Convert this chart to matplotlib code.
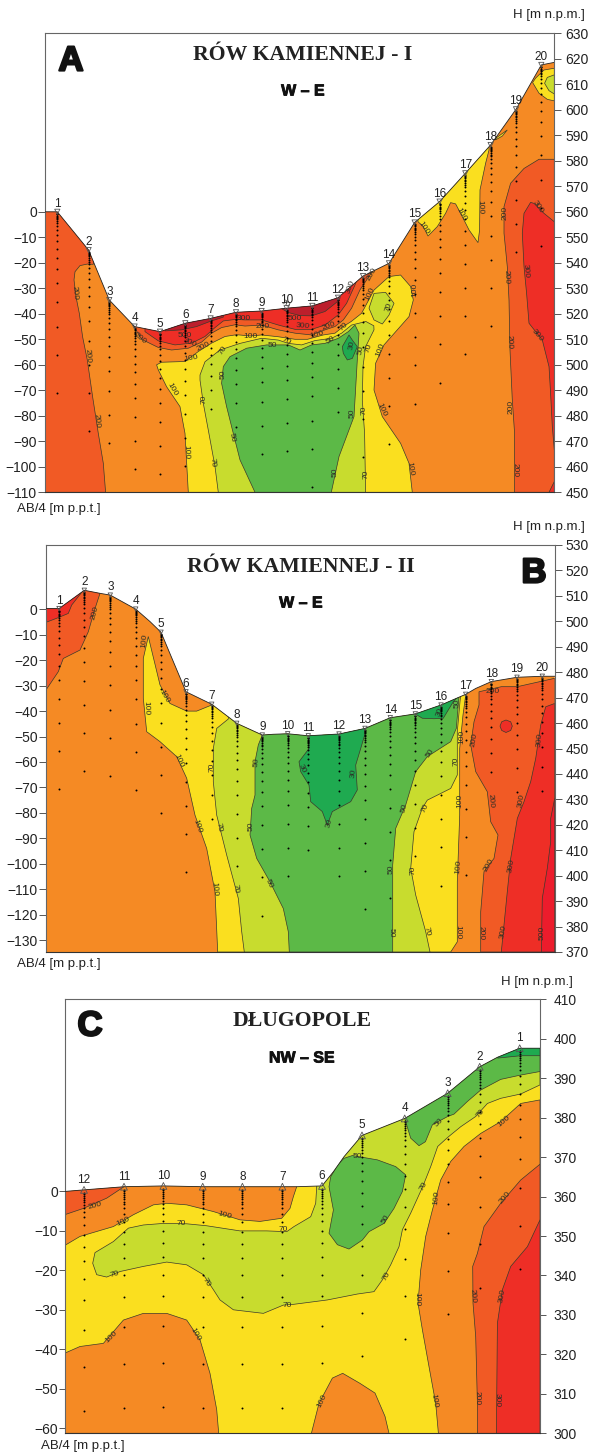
import matplotlib
matplotlib.use('Agg')
import matplotlib.pyplot as plt
from matplotlib.patches import Polygon
import matplotlib.patheffects as pe

W, H = 594, 1454
SANS = ['Liberation Sans', 'DejaVu Sans']

ORANGE = '#F58A24'
REDOR = '#F15A25'
RED = '#EE2E26'
RED2 = '#EC1C2C'
DARKRED = '#BC1F2C'
YELLOW = '#FADF1F'
YGREEN = '#C8DC2E'
GREEN = '#5CB947'
DGREEN = '#1FAA50'

# AB/4 depth of the sounding points below each station [m]
ab4_depths = [0.75, 1, 1.5, 2, 2.5, 3, 3.75, 4.5, 5.5, 7, 9, 11.5, 14.5, 18, 22.5, 28, 35.5, 45, 56, 71]

# ---------- profile A ----------
a_station_x = [12, 43.3, 64, 89.3, 114.7, 140, 165.3, 190.7, 216.3, 241.3, 267, 292.7, 317.7, 343.7, 369.3, 394.3, 420, 445.3, 470.7, 496]
a_station_h = [560, 545, 525.4, 515, 513, 516.3, 518.2, 520.6, 521.1, 522.2, 523.1, 526.3, 534.8, 539.8, 555.8, 564, 575.1, 586.2, 600.2, 617.6]
a_counts = [20, 20, 19, 19, 19, 19, 17, 18, 19, 19, 20, 18, 20, 20, 20, 20, 20, 20, 19, 20]
a_surface = [(0, 560), (12, 560), (43.3, 545), (64, 525.4), (89.3, 515), (114.7, 513), (140, 516.3), (165.3, 518.2), (190.7, 520.6), (216.3, 521.1), (241.3, 522.2), (267, 523.1), (292.7, 526.3), (317.7, 534.8), (343.7, 539.8), (369.3, 555.8), (394.3, 564), (420, 575.1), (445.3, 586.2), (470.7, 600.2), (496, 617.6), (509, 618.6)]

a_left200 = [(0, 450), (0, 565), (50, 565), (48, 539.4), (42, 539.5), (34.7, 538.9), (29.7, 536.5), (28.7, 533.3), (30.7, 526.7), (34, 520.2), (37.3, 511), (42, 501.9), (47.3, 487.5), (53, 473.1), (58, 461.4), (60.3, 450)]
a_top200 = [(84.7, 517.9), (89.7, 514.3), (96.3, 510), (113, 506.8), (126.3, 505.8), (143, 506.5), (156.3, 508.9), (166.3, 512.4), (176.3, 514.6), (189.7, 515.7), (199.7, 515.2), (216.3, 515.6), (233, 513.7), (249.7, 512.4), (266.3, 511.7), (279.7, 513.7), (289.7, 515), (298, 517.6), (306.3, 522.2), (314.7, 529.4), (328, 537.2), (345, 541), (345, 548), (84.7, 548)]
a_top300 = [(99.7, 513), (113, 509.4), (129.7, 507.8), (146.3, 508.5), (159.7, 511.1), (169.7, 514.6), (178, 517.2), (190, 517.8), (199.7, 517.6), (216.3, 517.6), (233, 515.6), (249.7, 513.9), (266.3, 513.9), (279.7, 515.6), (293, 519.6), (301.3, 524.1), (309.7, 531.3), (318, 540), (318, 545), (99.7, 545)]
a_top500a = [(119.7, 513.3), (136.3, 513.7), (151.3, 515), (164.7, 517), (178, 518.7), (178, 530), (119.7, 530)]
a_top500b = [(234.7, 522.4), (243, 520.5), (254.7, 519.3), (266.3, 519.2), (279.7, 520.9), (291.3, 524.5), (294.7, 526.1), (295, 535), (235, 535)]
a_yellow = [(111.3, 500), (116.3, 501), (139.7, 501.3), (153, 505.2), (166.3, 508.5), (179.7, 511.1), (191.3, 511.8), (205, 511.3), (216.3, 511.7), (233, 511), (249.7, 510), (262.3, 510), (278, 511.7), (289.7, 512.4), (298, 515), (306, 517), (316.3, 520.2), (328.7, 529.3), (343.7, 534.6), (355.3, 535.2), (365.3, 530.7), (368, 525.4), (363.7, 518.9), (352, 513.7), (338.7, 507.8), (330.3, 500.6), (328.7, 490.1), (337, 479.7), (355.3, 469.2), (363.7, 461.4), (367, 450), (143, 450), (139.7, 473.1), (134.7, 483.6), (121.3, 491.4), (113, 498)]
a_ygreen = [(173, 450), (169.7, 460.1), (163, 474.4), (158, 484.9), (154.7, 494), (154.7, 496), (159.7, 501.2), (174.7, 505.8), (194.7, 508.4), (216.3, 510.4), (233, 509.7), (243, 508.4), (256.3, 507.8), (269.7, 509.5), (286.3, 510.4), (296.3, 512.4), (306.3, 515.6), (314.7, 516.4), (320.5, 517), (328.5, 515.3), (328.7, 513.7), (320.3, 507.1), (317.7, 499.3), (317, 486.2), (319.3, 473.1), (320.3, 450)]
a_green = [(209.7, 450), (194.7, 462.7), (188, 473.1), (181.3, 483.6), (176.3, 492.7), (178, 499.3), (184.7, 503.2), (201.3, 506.5), (221.3, 507.8), (238, 507.8), (243, 507.8), (254.7, 505.8), (266.3, 507.8), (279.7, 508.4), (293, 510.4), (303, 513), (309.7, 515.6), (313.7, 512.4), (312, 501.9), (308.7, 479.7), (293.7, 464), (286, 450)]
a_dgreen = [(297, 507.1), (303.7, 511.7), (307, 509.7), (312, 507.1), (307, 502.5), (302, 501.9), (298, 504.5)]
a_blob70 = [(323.7, 522.2), (328.7, 528), (340.3, 528.4), (348.7, 524.1), (343.7, 519.5), (337, 516), (328.7, 517.6)]
a_wedge = [(372.7, 556.1), (378, 554.2), (382.7, 550.5), (392, 554.2), (400.3, 559.4), (405.3, 563.6), (410.3, 563.1), (415.3, 559.4), (423.7, 552.9), (432.7, 547.9), (434.3, 552.9), (434.7, 568.6), (440.3, 579), (443.7, 584.2), (443.7, 595), (372.7, 570)]
a_sliver = [(450.3, 588.8), (462, 592.1), (457, 589.7), (450.3, 588.2)]
a_right200 = [(509, 580.6), (493.7, 580.6), (478.7, 577), (465.3, 571.2), (458.7, 562), (458.7, 551.6), (462, 538.5), (463.7, 525.4), (464.7, 505.8), (467, 486.2), (469.3, 473.1), (469.3, 450), (509, 450)]
a_right300 = [(509, 556.1), (498.7, 559.4), (488.7, 563.3), (485.3, 563.7), (478.7, 559.4), (477, 551.6), (478.7, 538.5), (481.3, 528), (483.7, 516.3), (497, 509.7), (503.7, 499.3), (505.3, 488.8), (507, 475.8), (509, 466.6)]
a_corner300 = [(503.7, 450), (509, 454.2), (509, 450)]
a_top_yellow = [(509, 616.3), (498.7, 615.6), (490.3, 612.4), (487.3, 610.7), (493.7, 606.5), (502, 604.1), (509, 603.5)]
a_top_ygreen = [(509, 613.7), (502, 612.7), (499.3, 610.4), (503.7, 607.5), (509, 606.2)]

a_regions = [(REDOR, a_left200), (REDOR, a_right200), (RED, a_right300), (RED, a_corner300),
             (REDOR, a_top200), (RED, a_top300), (DARKRED, a_top500a), (DARKRED, a_top500b),
             (YELLOW, a_yellow), (YGREEN, a_ygreen), (GREEN, a_green), (DGREEN, a_dgreen),
             (YGREEN, a_blob70), (YELLOW, a_wedge), (YELLOW, a_sliver),
             (YELLOW, a_top_yellow), (YGREEN, a_top_ygreen)]

a_labels = [(29.7, 528, '200', -85), (42.3, 503.5, '200', -85), (51.3, 478, '200', -85), (94.7, 510.4, '200', -40),
            (139, 511.3, '500', 0), (144.7, 508.7, '300', -25), (158, 507.1, '200', 25), (146.3, 502.5, '100', 10),
            (127.3, 490.5, '100', -60), (140.7, 465.7, '100', -88), (159, 486.6, '70', 90), (167.3, 461.6, '70', -85),
            (178, 505.8, '70', 55), (178, 496.4, '50', 90), (186.3, 471.6, '50', -80), (198.7, 518, '300', 0),
            (217, 515, '200', 0), (205.3, 511, '100', 0), (227, 507.5, '50', 0), (241.3, 509.4, '70', -30),
            (239.7, 523.8, '70', -30), (249.7, 518.2, '500', 0), (258, 515, '300', -5), (283, 515, '200', 20),
            (271.3, 511.7, '100', 15), (305.3, 530.7, '300', 70), (327, 535.5, '200', 60), (324.7, 527.8, '100', 65),
            (298.3, 515, '70', 45), (285.3, 509.7, '50', 35), (307, 507.8, '30', 80), (315.3, 505.8, '50', 80),
            (323.7, 506.5, '70', 70), (343.7, 522.8, '70', 70), (334.7, 505.8, '100', 70), (369.3, 529.3, '100', 90),
            (378, 553.8, '100', -55), (416.3, 558.8, '100', -60), (434.7, 561.8, '100', -88), (459.3, 559.4, '200', 90),
            (461, 534.6, '200', -88), (463.7, 509, '200', -88), (465.3, 483.3, '200', 90), (469.7, 458.8, '200', -90),
            (492.7, 561.8, '300', -55), (480.7, 537, '300', -85), (492, 511.7, '300', -50), (307.3, 481, '50', 90),
            (318.3, 482.3, '70', 90), (290.3, 457.7, '50', 90), (320.3, 457.2, '70', 90), (336, 482.3, '100', -65),
            (364.3, 459.4, '100', -80)]

# ---------- profile B ----------
b_station_x = [13, 38.3, 64.3, 89.7, 115, 140, 165.7, 190.7, 216.3, 241.7, 262.3, 293, 319, 344.3, 369.3, 395, 419.7, 445.3, 471, 496.3]
b_station_h = [505, 512.2, 510.3, 504.8, 495.7, 472.3, 467.4, 459.9, 455.3, 455.8, 455, 455.7, 457.9, 462.1, 463.6, 467.1, 471.3, 476.3, 478, 478.4]
b_counts = [20, 20, 20, 20, 20, 20, 18, 19, 20, 19, 18, 19, 20, 20, 19, 20, 20, 17, 18, 18]
b_surface = [(0, 505), (13, 505), (38.3, 512.2), (54, 511), (64.3, 510.3), (89.7, 504.8), (104, 499.9), (115, 495.7), (140, 472.3), (165.7, 467.4), (190.7, 459.9), (216.3, 455.3), (227.3, 455.6), (241.7, 455.8), (262.3, 455), (293, 455.7), (319, 457.9), (344.3, 462.1), (369.3, 463.6), (395, 467.1), (419.7, 471.3), (429.7, 473.6), (445.3, 476.3), (471, 478), (496.3, 478.4), (508.7, 478.4)]

b_left200 = [(0, 473), (12.3, 480.2), (17.3, 485.4), (34, 488.7), (42.3, 495.9), (49, 505), (54, 511), (54, 520), (0, 520)]
b_left300 = [(0, 499.6), (10.7, 501.2), (22.3, 503.1), (25.7, 506.4), (37.3, 512.2), (37.3, 520), (0, 520)]
b_yellow = [(102.3, 494), (97.3, 485.4), (97.3, 469.7), (100.7, 456.6), (114, 452.7), (130.7, 446.8), (140.7, 438.3), (149, 423.8), (160.7, 410.7), (169, 393.7), (171.7, 370), (404.7, 370), (411.3, 374), (411.3, 397.6), (413.7, 423.8), (413.7, 450), (417, 463.2), (419.7, 471), (419.7, 480), (165.7, 480), (165.7, 467.1), (150.7, 464.7), (140.7, 464.7), (124, 467.7), (114, 475)]
b_ygreen = [(182.3, 461.6), (170.7, 457.9), (167.3, 450), (167.3, 437), (170.7, 423.8), (180.7, 408.1), (192.3, 391.1), (195.7, 378), (198.3, 370), (384, 370), (379.7, 378), (369.7, 392.4), (364.7, 402.9), (368, 417.3), (376.3, 426.5), (381.3, 429.7), (404.7, 434.3), (411.3, 439.6), (411.3, 456.6), (414, 468.4), (414.7, 471), (414.7, 480), (182.3, 480)]
b_green = [(216.3, 480), (216.3, 455.3), (212.3, 451.4), (209, 444.8), (209, 431.7), (205.7, 426.5), (204, 416), (210.7, 406.8), (224, 397.6), (237.3, 387.1), (242.3, 378), (243.3, 370), (346.7, 370), (346.7, 404.2), (349.7, 418.6), (359.7, 427.8), (369.7, 440.9), (381.3, 446.8), (404.7, 452.7), (410.3, 457.9), (413, 470.4), (413, 480)]
b_dgreen1 = [(263, 470), (263, 450), (253, 444.8), (254.7, 440.9), (263, 435.6), (264.7, 429.1), (276.3, 425.2), (281.3, 419.9), (286.3, 425.2), (304.7, 429.1), (311.3, 433.7), (309.7, 443.5), (314.7, 450), (318.7, 455.3), (318.7, 470)]
b_dgreen2 = [(369.3, 463.6), (376.3, 461.9), (388, 461.7), (397.3, 461.9), (407.3, 468.4), (412, 470.4), (412, 480), (369.3, 480)]
b_right200 = [(508.7, 477.6), (471.3, 474.3), (455.3, 474.3), (433, 472.3), (433, 467.1), (428, 460.5), (424.7, 451.4), (429.7, 440.9), (441.3, 433), (444.7, 421.2), (452, 416), (448, 406.8), (438, 401.6), (434.7, 385.8), (434.7, 370), (508.7, 370)]
b_right300 = [(508.7, 467.7), (499.7, 466.4), (494.7, 459.2), (489.7, 446.1), (484.7, 437), (478, 429.1), (471.3, 422.5), (464.7, 406.8), (461.3, 393.7), (455.3, 370), (508.7, 370)]
b_right500 = [(508.7, 430.4), (504.7, 422.5), (504.7, 413.4), (501.3, 402.9), (496.3, 391.1), (495.3, 370), (508.7, 370)]
b_spot300 = [(454, 458.8), (455.7, 460.5), (460, 461.2), (464.7, 460.5), (466.3, 458.8), (464.7, 457.1), (460, 456.3), (455.7, 457.1)]

b_regions = [(REDOR, b_left200), (RED, b_left300), (YELLOW, b_yellow), (YGREEN, b_ygreen), (GREEN, b_green),
             (DGREEN, b_dgreen1), (DGREEN, b_dgreen2), (REDOR, b_right200), (RED, b_right300), (RED2, b_right500), (RED, b_spot300)]

b_labels = [(49, 503.4, '200', 75), (98, 492.3, '100', 85), (99.7, 465.8, '100', -88), (118, 470.6, '100', -60),
            (133, 445.1, '100', -65), (150.7, 419.6, '100', -70), (168.3, 394.7, '100', -85), (166.3, 442.8, '70', 90),
            (173.3, 419, '70', -80), (189.7, 395, '70', -85), (210.7, 444.8, '50', 85), (204.7, 419.6, '50', 90),
            (223.3, 397, '50', -65), (256.3, 442, '30', -65), (308, 440.2, '30', 85), (283, 420.6, '30', 75),
            (383.7, 448, '50', 55), (358, 426.5, '50', 75), (345.3, 402.5, '50', 90), (345.3, 377.6, '50', -90),
            (411.3, 467.7, '50', 90), (393.7, 464.5, '30', 70), (410.3, 445, '70', 90), (378.7, 426.5, '70', 65),
            (367, 402.2, '70', 90), (381.3, 378.2, '70', -80), (415.7, 454.6, '100', 90), (413.7, 429.3, '100', 90),
            (412.3, 403.5, '100', 85), (412, 378, '100', -90), (428, 453.3, '200', 80), (444.3, 429.3, '200', -85),
            (443, 404.2, '200', 60), (434.7, 377.6, '200', -90), (447, 472.6, '200', 0), (494, 453.3, '300', 85),
            (475.7, 429.3, '300', 80), (465.3, 403.9, '300', 80), (457.3, 378, '300', 80), (495.7, 377.6, '500', 90)]

# ---------- profile C ----------
c_station_x = [455, 415, 383, 340, 297.3, 257.3, 217.7, 177.7, 138, 98.7, 59.3, 19.3]
c_station_h = [397.6, 392.9, 386.2, 379.8, 375.5, 362.7, 362.5, 362.5, 362.5, 362.7, 362.5, 361.7]
c_counts = [19, 19, 19, 19, 19, 18, 19, 19, 19, 19, 19, 19]
c_surface = [(0, 361.3), (19.3, 361.7), (59.3, 362.5), (98.7, 362.7), (138, 362.5), (177.7, 362.5), (217.7, 362.5), (232, 362.5), (257.3, 362.7), (268.7, 366.3), (279.3, 370.1), (297.3, 375.5), (340, 379.8), (383, 386.2), (415, 392.9), (432.7, 395.3), (455, 397.6), (475.3, 397.6)]

c_top200 = [(0, 355.4), (18.7, 357), (42, 359.6), (59.3, 362.5), (59.3, 368), (0, 368)]
c_top100 = [(0, 347.6), (15.3, 349.9), (48.7, 352.4), (68.7, 355.4), (88.7, 357.9), (102, 358.3), (122, 357.9), (148.7, 356.2), (175.3, 354.1), (195.3, 353.7), (217, 354.5), (225.3, 357), (228.7, 360), (232, 362.5), (232, 368), (0, 368)]
c_bottom100a = [(0, 320.3), (15.3, 322), (38.7, 322.8), (58.7, 328.7), (78.7, 330.4), (102, 330.4), (122, 328.7), (135.3, 323.7), (145.3, 315.2), (152, 306), (154, 300), (0, 300)]
c_bottom100b = [(246.7, 300), (254.3, 307.6), (267.7, 314), (278, 315.2), (295, 312.7), (310.3, 310.2), (320.3, 304.3), (324.3, 300)]
c_ygreen = [(30.3, 345.8), (48.7, 348.6), (63.7, 352), (78.7, 352.8), (98.7, 353.2), (122, 353.1), (142, 352.6), (175.3, 351.3), (202, 351.3), (222, 351.1), (229.3, 352.4), (246, 354.9), (251, 358.3), (252, 362.5), (252, 372), (300, 385), (340, 392), (383, 398), (415, 405), (455, 410), (475.3, 410), (475.3, 388.3), (456, 386), (436, 384.9), (422.7, 383.6), (411, 380.3), (396, 377.7), (383, 375), (373, 372.7), (366, 367.6), (358, 362.5), (346, 355.8), (337.7, 351.6), (334.3, 347.3), (326, 342.7), (317.7, 338.9), (309.3, 335.9), (292.7, 335.3), (262.7, 333.8), (229.3, 332.7), (218.7, 332.5), (198.7, 330.4), (168.7, 331.3), (155.3, 333.8), (148.7, 336.4), (138.7, 340.2), (122, 342.7), (102, 343.4), (78.7, 342.3), (55.3, 341), (42, 339.6), (32, 340.2), (28, 343.1)]
c_green_top = [(340, 379.8), (346, 374.8), (354.3, 372.9), (360.7, 373.9), (367.7, 378.2), (383, 380.3), (389.3, 380.9), (402.7, 384.1), (416, 387), (436, 389.7), (456, 390.8), (475.3, 391.7), (475.3, 410), (340, 410)]
c_dgreen_top = [(433, 395.1), (456, 395.7), (475.3, 395.7), (475.3, 410), (433, 410)]
c_green_mid = [(279.3, 369.7), (287.7, 370.4), (312.7, 369.3), (331, 367.6), (341, 365.5), (337.7, 361.3), (329.3, 357), (319.3, 353.2), (304.3, 351.1), (297.7, 349), (284.3, 346.7), (272.7, 347.8), (264.3, 350.7), (268.7, 356.6), (264.3, 362.5), (266, 365), (272.7, 368)]
c_right100 = [(475.3, 384.5), (456, 383.6), (436, 379), (416, 376), (399.3, 372.7), (386, 368.9), (376, 364.2), (367.7, 356.6), (361, 349.9), (356, 341.4), (353.3, 333), (357.7, 326.2), (364.3, 316.9), (371, 307.6), (373.7, 300), (475.3, 300)]
c_right200 = [(475.3, 368.2), (456, 364.2), (436, 358.3), (419.3, 352.4), (412.7, 345.6), (408, 342.3), (408.3, 333), (411, 324.5), (412.7, 307.6), (412.7, 300), (475.3, 300)]
c_right300 = [(475.3, 354.1), (462.7, 347.3), (446, 342.3), (437.7, 336.4), (432.7, 327.9), (431.7, 300), (475.3, 300)]

c_regions = [(ORANGE, c_top100), (REDOR, c_top200), (ORANGE, c_bottom100a), (ORANGE, c_bottom100b), (YGREEN, c_ygreen),
             (GREEN, c_green_top), (DGREEN, c_dgreen_top), (GREEN, c_green_mid),
             (ORANGE, c_right100), (REDOR, c_right200), (RED, c_right300)]

c_labels = [(30.7, 357.8, '200', 15), (58.7, 353.7, '100', 25), (160.3, 355.2, '100', -15), (116.3, 353.2, '70', 0),
            (218.7, 351.7, '70', 0), (49.7, 340.4, '70', 15), (142, 338.2, '70', -60), (223, 332.4, '70', 0),
            (46.3, 324.5, '100', 45), (130.3, 325.1, '100', -60), (292.7, 370.1, '50', 0), (374.3, 378.7, '50', 45),
            (321, 354.3, '50', 60), (359.3, 362.7, '70', 60), (416, 381.1, '70', 50), (322, 339.9, '70', 60),
            (439.3, 379, '100', 40), (372, 359.7, '100', 85), (352, 334, '100', -90), (369.3, 308.3, '100', -80),
            (257.7, 308.3, '100', 65), (440, 359.8, '200', 50), (407.7, 334.8, '200', -85), (412, 308.9, '200', -90),
            (438, 334.8, '300', 80), (432, 308.5, '300', -90)]


def fx(px):
    return px / W


def fy(py):
    return 1 - py / H


def panel(fig, box, hlim, zero, surface, base, regions, labels, st_x, st_h, counts, st_names, marker, msize, ticklen, pad):
    left, top, right, bottom = box
    ax = fig.add_axes([fx(left), fy(bottom), (right - left) / W, (bottom - top) / H])
    ax.set_xlim(0, right - left)
    ax.set_ylim(hlim)
    bottom_h = hlim[0]
    # terrain outline clips all the coloured bands
    terrain = Polygon(surface + [(right - left, bottom_h), (0, bottom_h)], closed=True, fc=base, ec='none', zorder=1)
    ax.add_patch(terrain)
    for i, (col, pts) in enumerate(regions):
        p = Polygon(pts, closed=True, fc=col, ec='#3b3a2c', lw=0.5, zorder=2 + i * 0.01)
        ax.add_patch(p)
        p.set_clip_path(terrain)
    ax.plot([s[0] for s in surface], [s[1] for s in surface], color='#222222', lw=0.6, zorder=4)
    # sounding points
    for x, h, n in zip(st_x, st_h, counts):
        ys = [h - d for d in ab4_depths[:n]]
        ax.scatter([x] * n, ys, s=2, color='black', linewidths=0, zorder=5)
    ax.scatter(st_x, st_h, marker=marker, s=msize, facecolors='none', edgecolors='#555555', linewidths=0.6, zorder=6)
    for x, h, name in zip(st_x, st_h, st_names):
        ax.annotate(str(name), (x, h), xytext=(0, 1.5 if marker == 'v' else 3), textcoords='offset points', ha='center', va='bottom',
                    fontsize=8.5, family=SANS, color='#222222', zorder=7)
    for x, h, txt, rot in labels:
        ax.text(x, h, txt, rotation=rot, ha='center', va='center', fontsize=6, family=SANS, color='#2e2e26',
                rotation_mode='anchor', zorder=4.5)
    ax.set_xticks([])
    ax.yaxis.tick_right()
    ax.set_yticks(range(int(hlim[0]), int(hlim[1]) + 1, 10))
    ax.tick_params(axis='y', length=ticklen, width=0.7, color='#555555', labelsize=10, pad=pad, labelcolor='#222222')
    for lab in ax.get_yticklabels():
        lab.set_family(SANS)
    for s in ax.spines.values():
        s.set_color('#666666')
        s.set_linewidth(0.8)
    ax.spines['bottom'].set_color('#333333')
    # depth scale on the left, same metres shifted to the profile zero
    sec = ax.secondary_yaxis('left', functions=(lambda v: v - zero, lambda v: v + zero))
    lowest = -int((zero - hlim[0]) // 10) * 10
    sec.set_yticks(list(range(lowest, 1, 10)))
    sec.tick_params(axis='y', length=ticklen, width=0.7, color='#555555', labelsize=10, pad=1, labelcolor='#222222')
    sec.spines['left'].set_visible(False)
    for lab in sec.get_yticklabels():
        lab.set_family(SANS)
    return ax


def heavy(fig, x, y, s):
    fig.text(fx(x), fy(y), s, ha='center', va='center', fontsize=25, family='Liberation Sans', weight='bold', color='#111111',
             path_effects=[pe.withStroke(linewidth=1.6, foreground='#111111')])


def headline(fig, x, y1, y2, title, sub):
    fig.text(fx(x), fy(y1), title, ha='center', va='center', fontsize=15.7, family='Liberation Serif', weight='bold', color='#222222')
    fig.text(fx(x), fy(y2), sub, ha='center', va='center', fontsize=11.5, family=SANS, weight='bold', color='#111111',
             path_effects=[pe.withStroke(linewidth=0.6, foreground='#111111')])


def axis_caption(fig, x, y, s, ha='left'):
    fig.text(fx(x), fy(y), s, ha=ha, va='center', fontsize=9.5, family=SANS, color='#222222')


fig = plt.figure(figsize=(W / 100, H / 100), dpi=100, facecolor='white')

panel(fig, (45.3, 33.3, 554.3, 492.3), (450, 630), 560, a_surface, ORANGE, a_regions, a_labels,
      a_station_x, a_station_h, a_counts, list(range(1, 21)), 'v', 14, 5, 3)
panel(fig, (46, 545, 554.7, 952), (370, 530), 504.7, b_surface, ORANGE, b_regions, b_labels,
      b_station_x, b_station_h, b_counts, list(range(1, 21)), 'v', 10, 5, 3)
panel(fig, (64.7, 999.3, 540, 1433.3), (300, 410), 361.3, c_surface, YELLOW, c_regions, c_labels,
      c_station_x, c_station_h, c_counts, list(range(1, 13)), '^', 24, 4, 6)

heavy(fig, 71, 61, 'A')
heavy(fig, 534, 573, 'B')
heavy(fig, 90, 1026, 'C')
headline(fig, 303, 55, 91, 'RÓW KAMIENNEJ - I', 'W – E')
headline(fig, 301, 567, 603, 'RÓW KAMIENNEJ - II', 'W – E')
headline(fig, 302, 1021, 1058, 'DŁUGOPOLE', 'NW – SE')

axis_caption(fig, 17, 509, 'AB/4 [m p.p.t.]')
axis_caption(fig, 585, 15, 'H [m n.p.m.]', 'right')
axis_caption(fig, 17, 964, 'AB/4 [m p.p.t.]')
axis_caption(fig, 585, 527, 'H [m n.p.m.]', 'right')
axis_caption(fig, 41, 1446, 'AB/4 [m p.p.t.]')
axis_caption(fig, 573, 982, 'H [m n.p.m.]', 'right')

fig.savefig('out.png', dpi=100)
